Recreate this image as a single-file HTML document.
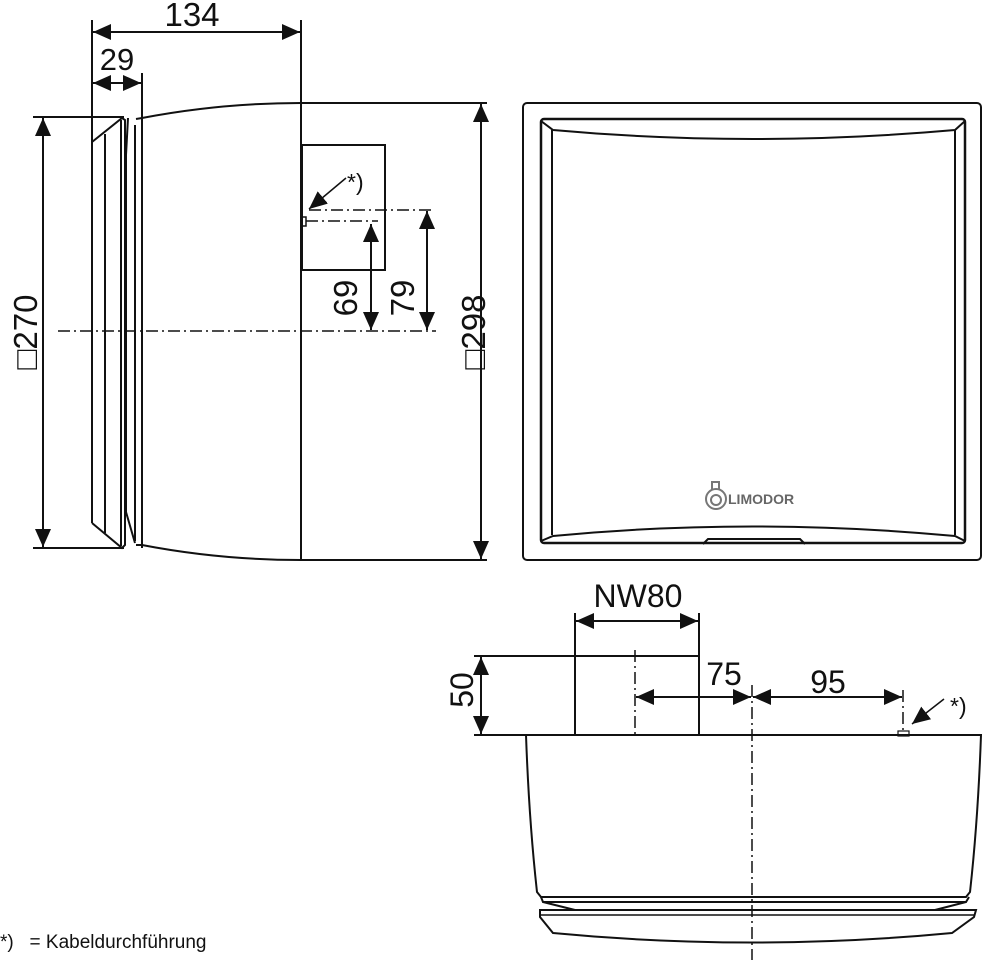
<!DOCTYPE html>
<html><head><meta charset="utf-8"><style>
html,body{margin:0;padding:0;background:#fff;}
svg{display:block;}
text{font-family:"Liberation Sans",sans-serif;fill:#111;}
</style></head><body>
<svg width="983" height="960" viewBox="0 0 983 960" xmlns="http://www.w3.org/2000/svg">
<defs>
<marker id="a" viewBox="0 0 18 16" refX="18" refY="8" markerWidth="18" markerHeight="16" markerUnits="userSpaceOnUse" orient="auto-start-reverse">
<path d="M0,0 L18,8 L0,16 Z" fill="#111"/></marker>
</defs>
<g stroke="#111" stroke-width="2" fill="none">
<line x1="92" y1="20" x2="92" y2="523"/>
<line x1="301" y1="20" x2="301" y2="561"/>
<line x1="93" y1="32" x2="300" y2="32" marker-start="url(#a)" marker-end="url(#a)"/>
<line x1="142" y1="73" x2="142" y2="548"/>
<line x1="93" y1="83" x2="141" y2="83" marker-start="url(#a)" marker-end="url(#a)"/>
<line x1="33" y1="117" x2="124" y2="117"/>
<line x1="33" y1="548" x2="124" y2="548"/>
<line x1="43" y1="118" x2="43" y2="547" marker-start="url(#a)" marker-end="url(#a)"/>
<line x1="301" y1="103" x2="487" y2="103"/>
<line x1="301" y1="560" x2="487" y2="560"/>
<line x1="481" y1="104" x2="481" y2="559" marker-start="url(#a)" marker-end="url(#a)"/>
<path d="M92,142 L122,118 L125,120 L125,545 L122,548 L92,523"/>
<line x1="105" y1="134" x2="105" y2="533"/>
<line x1="121" y1="120" x2="121" y2="546"/>
<path d="M128,118 L126,155 L126,512 L135,543"/>
<path d="M135,125 L135,541"/>
<path d="M136,119 L142,118 Q220,103 301,103"/>
<path d="M136,545 L142,545 Q220,560 301,560"/>
<rect x="302" y="145" width="83" height="125"/>
<rect x="302" y="217" width="4" height="9" stroke-width="1.5"/>
<line x1="309" y1="210" x2="432" y2="210" stroke-dasharray="12,4,2,4" stroke-width="1.5"/>
<line x1="306" y1="221" x2="378" y2="221" stroke-dasharray="12,4,2,4" stroke-width="1.5"/>
<line x1="58" y1="331" x2="436" y2="331" stroke-dasharray="12,4,2,4" stroke-width="1.5"/>
<line x1="371" y1="224" x2="371" y2="330" marker-start="url(#a)" marker-end="url(#a)"/>
<line x1="427" y1="211" x2="427" y2="330" marker-start="url(#a)" marker-end="url(#a)"/>
<line x1="346" y1="178" x2="309" y2="209" stroke-width="1.5" marker-end="url(#a)"/>
<rect x="523" y="103" width="458" height="457" rx="4"/>
<rect x="541" y="119" width="424" height="424" rx="3" stroke-width="2.5"/>
<path d="M541,121 L553,130 Q752,148 955,130 L965,121"/>
<line x1="552" y1="130" x2="552" y2="535"/>
<line x1="955" y1="130" x2="955" y2="535"/>
<path d="M541,541 L553,536 Q752,517 955,536 L965,541"/>
<path d="M703,544 L708,539 L800,539 L805,544"/>
<g stroke="#777" stroke-width="2">
<circle cx="716" cy="499" r="10"/><circle cx="716" cy="500" r="5"/>
<path d="M712,490 L712,482 L719,482 L719,490"/>
</g>
<line x1="575" y1="613" x2="575" y2="735"/>
<line x1="699" y1="613" x2="699" y2="735"/>
<line x1="576" y1="621" x2="698" y2="621" marker-start="url(#a)" marker-end="url(#a)"/>
<line x1="474" y1="656" x2="699" y2="656"/>
<line x1="474" y1="735" x2="530" y2="735"/>
<line x1="481" y1="657" x2="481" y2="734" marker-start="url(#a)" marker-end="url(#a)"/>
<line x1="635" y1="650" x2="635" y2="735" stroke-dasharray="12,4,2,4" stroke-width="1.5"/>
<line x1="752" y1="685" x2="752" y2="960" stroke-dasharray="12,4,2,4" stroke-width="1.5"/>
<line x1="903" y1="690" x2="903" y2="730" stroke-dasharray="12,4,2,4" stroke-width="1.5"/>
<line x1="636" y1="697" x2="751" y2="697" marker-start="url(#a)" marker-end="url(#a)"/>
<line x1="753" y1="697" x2="902" y2="697" marker-start="url(#a)" marker-end="url(#a)"/>
<line x1="944" y1="699" x2="912" y2="724" stroke-width="1.5" marker-end="url(#a)"/>
<rect x="898" y="731" width="11" height="5" stroke-width="1.2"/>
<path d="M526,735 L981,735 Q978,820 970,892 L966,897 L541,897 L537,892 Q529,820 526,735 Z"/>
<path d="M541,897 L543,902 L966,902 L969,897"/>
<path d="M543,902 L575,910 M966,902 L935,910"/>
<path d="M540,910 L976,910 L974,917 L952,933 Q752,952 553,933 L540,917 Z"/>
<line x1="541" y1="915" x2="975" y2="915" stroke-width="1.5"/>
</g>
<text x="192" y="26" font-size="33" text-anchor="middle">134</text>
<text x="117" y="70" font-size="31" text-anchor="middle">29</text>
<text transform="translate(37,332) rotate(-90)" font-size="33" text-anchor="middle">□270</text>
<text transform="translate(485,332) rotate(-90)" font-size="33" text-anchor="middle">□298</text>
<text transform="translate(357,298) rotate(-90)" font-size="33" text-anchor="middle">69</text>
<text transform="translate(414,298) rotate(-90)" font-size="33" text-anchor="middle">79</text>
<text x="347" y="190" font-size="23">*)</text>
<text x="728" y="504" font-size="14" font-weight="bold" style="fill:#666">LIMODOR</text>
<text x="638" y="607" font-size="32" text-anchor="middle">NW80</text>
<text transform="translate(473,690) rotate(-90)" font-size="32" text-anchor="middle">50</text>
<text x="724" y="685" font-size="32" text-anchor="middle">75</text>
<text x="828" y="693" font-size="32" text-anchor="middle">95</text>
<text x="950" y="714" font-size="23">*)</text>
<text x="0" y="948" font-size="19">*)&#160;&#160;&#160;= Kabeldurchführung</text>
</svg>
</body></html>
